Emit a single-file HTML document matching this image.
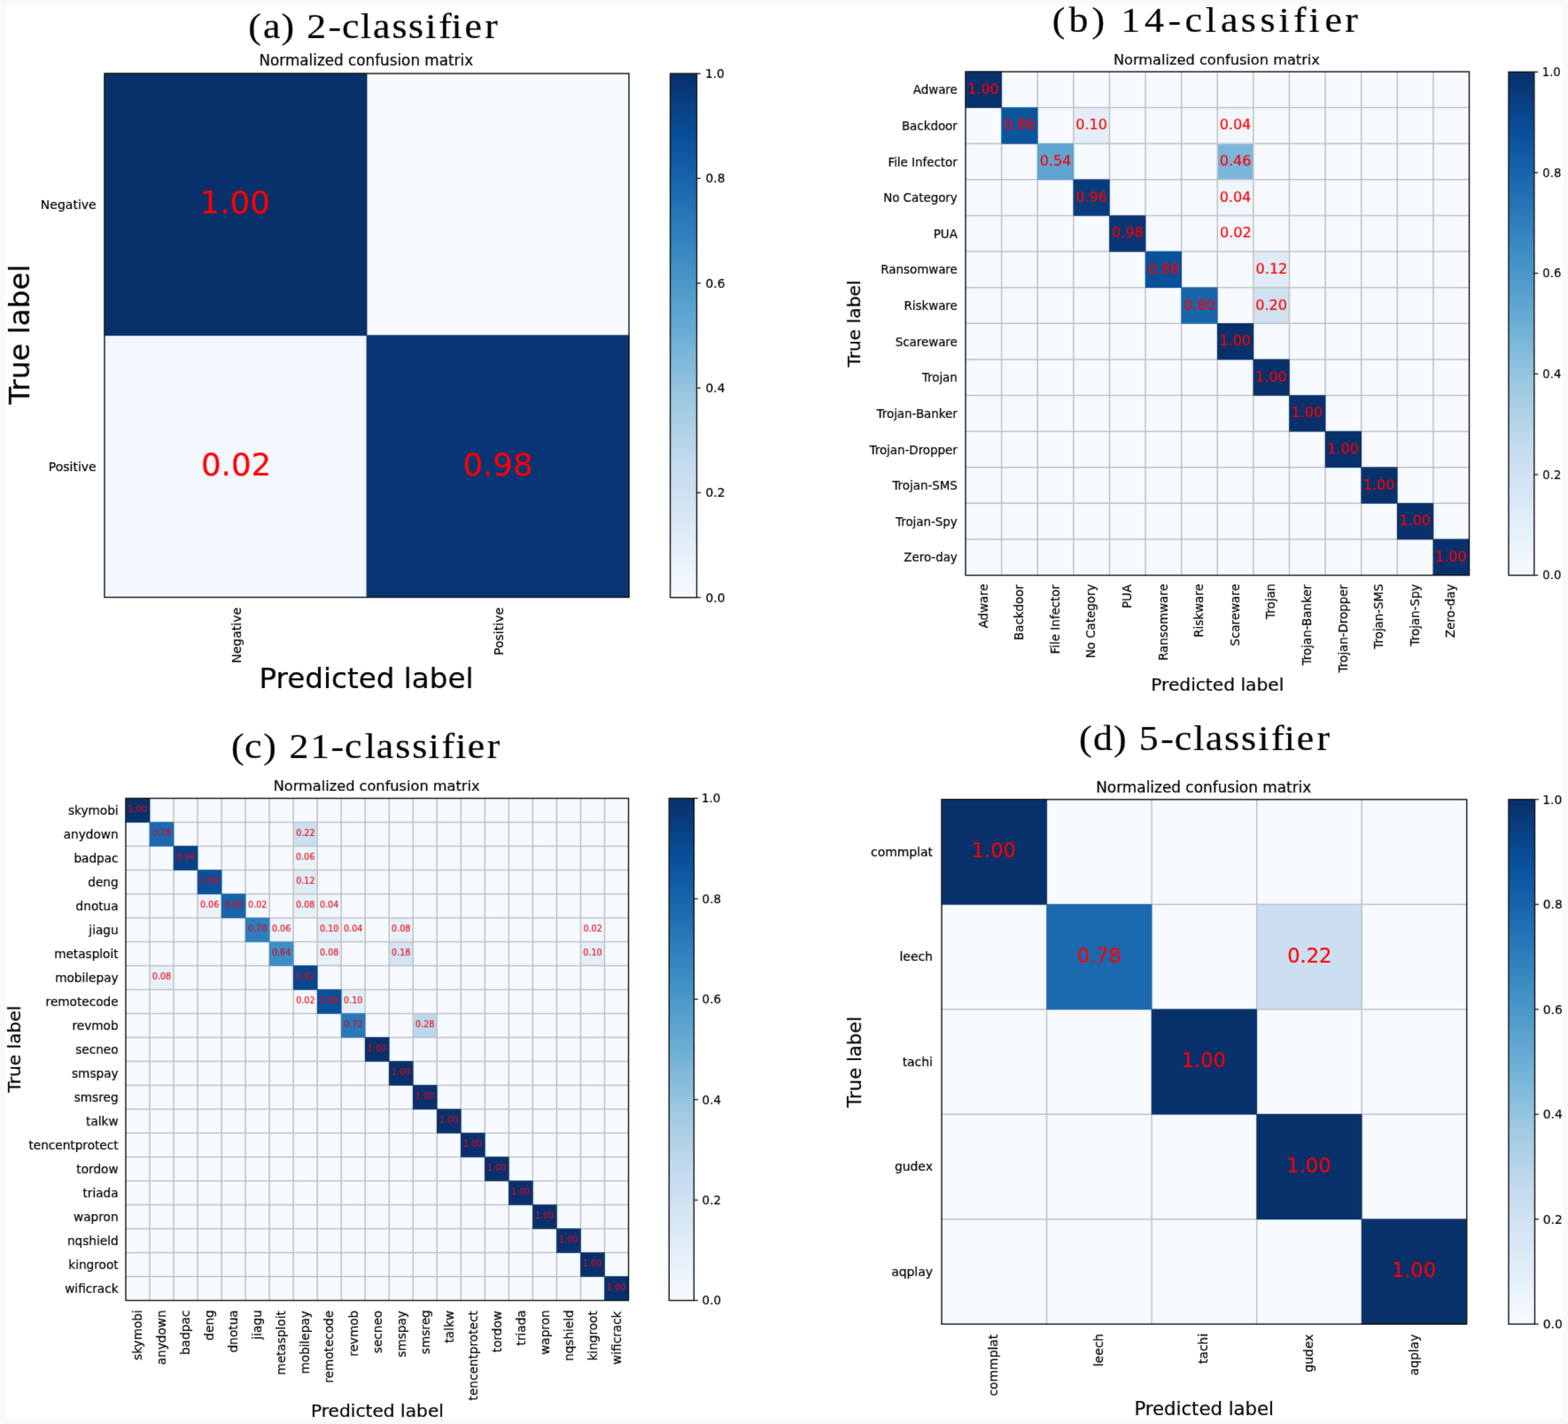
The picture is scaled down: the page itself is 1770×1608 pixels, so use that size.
<!DOCTYPE html>
<html><head><meta charset="utf-8"><title>Confusion matrices</title>
<style>html,body{margin:0;padding:0;background:#f9f9fb;}svg{display:block}</style></head>
<body><svg width="1770" height="1608" viewBox="0 0 1770 1608">
<defs><filter id="bl" x="0" y="0" width="1770" height="1608" filterUnits="userSpaceOnUse" color-interpolation-filters="sRGB"><feConvolveMatrix order="3" kernelMatrix="0.01134 0.08382 0.01134 0.08382 0.61935 0.08382 0.01134 0.08382 0.01134" divisor="1" edgeMode="duplicate"/></filter><linearGradient id="gb" x1="0" y1="0" x2="0" y2="1"><stop offset="0.0000" stop-color="#08306b"/><stop offset="0.1250" stop-color="#08519c"/><stop offset="0.2500" stop-color="#2171b5"/><stop offset="0.3750" stop-color="#4292c6"/><stop offset="0.5000" stop-color="#6baed6"/><stop offset="0.6250" stop-color="#9ecae1"/><stop offset="0.7500" stop-color="#c6dbef"/><stop offset="0.8750" stop-color="#deebf7"/><stop offset="1.0000" stop-color="#f7fbff"/></linearGradient></defs>
<g filter="url(#bl)"><rect x="0" y="0" width="1770" height="1608" fill="#f9f9fc"/>
<rect x="6" y="5.5" width="1758.5" height="1595.5" fill="#fff"/>
<rect x="118" y="83" width="592.00" height="591.50" fill="#f7fbff"/>
<rect x="118.00" y="378.75" width="296.00" height="295.75" fill="#f3f8fe"/>
<path d="M414.00 83V674.5M118 378.75H710" stroke="#bfc1c3" stroke-width="1.5" fill="none"/>
<rect x="117.70" y="82.70" width="296.60" height="296.35" fill="#08306b"/>
<rect x="413.70" y="378.45" width="296.60" height="296.35" fill="#083573"/>
<rect x="118" y="83" width="592.00" height="591.50" fill="none" stroke="#111" stroke-width="1.4"/>
<text x="225.59" y="241.00" font-size="35.6" text-anchor="start" font-family="DejaVu Sans" fill="#f00" stroke="#f00" stroke-width="0.2">1.00</text>
<text x="226.97" y="536.75" font-size="35.6" text-anchor="start" font-family="DejaVu Sans" fill="#f00" stroke="#f00" stroke-width="0.2">0.02</text>
<text x="522.40" y="536.75" font-size="35.6" text-anchor="start" font-family="DejaVu Sans" fill="#f00" stroke="#f00" stroke-width="0.2">0.98</text>
<text x="108.70" y="235.91" font-size="14" text-anchor="end" font-family="DejaVu Sans" fill="#000" stroke="#000" stroke-width="0.2">Negative</text>
<text x="108.70" y="531.66" font-size="14" text-anchor="end" font-family="DejaVu Sans" fill="#000" stroke="#000" stroke-width="0.2">Positive</text>
<text x="271.90" y="748.78" font-size="14" text-anchor="start" font-family="DejaVu Sans" fill="#000" transform="rotate(-90 271.90 748.78)" stroke="#000" stroke-width="0.2">Negative</text>
<text x="567.90" y="739.93" font-size="14" text-anchor="start" font-family="DejaVu Sans" fill="#000" transform="rotate(-90 567.90 739.93)" stroke="#000" stroke-width="0.2">Positive</text>
<rect x="756.6" y="83.1" width="29.90" height="591.60" fill="url(#gb)" stroke="#111" stroke-width="1.4"/>
<path d="M786.5 674.70H791.00" stroke="#111" stroke-width="1.2"/>
<text x="796.49" y="679.72" font-size="13.8" text-anchor="start" font-family="DejaVu Sans" fill="#000" stroke="#000" stroke-width="0.2">0.0</text>
<path d="M786.5 556.38H791.00" stroke="#111" stroke-width="1.2"/>
<text x="796.49" y="561.40" font-size="13.8" text-anchor="start" font-family="DejaVu Sans" fill="#000" stroke="#000" stroke-width="0.2">0.2</text>
<path d="M786.5 438.06H791.00" stroke="#111" stroke-width="1.2"/>
<text x="796.49" y="443.08" font-size="13.8" text-anchor="start" font-family="DejaVu Sans" fill="#000" stroke="#000" stroke-width="0.2">0.4</text>
<path d="M786.5 319.74H791.00" stroke="#111" stroke-width="1.2"/>
<text x="796.49" y="324.76" font-size="13.8" text-anchor="start" font-family="DejaVu Sans" fill="#000" stroke="#000" stroke-width="0.2">0.6</text>
<path d="M786.5 201.42H791.00" stroke="#111" stroke-width="1.2"/>
<text x="796.49" y="206.44" font-size="13.8" text-anchor="start" font-family="DejaVu Sans" fill="#000" stroke="#000" stroke-width="0.2">0.8</text>
<path d="M786.5 83.10H791.00" stroke="#111" stroke-width="1.2"/>
<text x="795.88" y="88.12" font-size="13.8" text-anchor="start" font-family="DejaVu Sans" fill="#000" stroke="#000" stroke-width="0.2">1.0</text>
<text x="292.56" y="74.40" font-size="16.8" text-anchor="start" font-family="'DejaVu Sans'" fill="#000" stroke="#000" stroke-width="0.2">Normalized confusion matrix</text>
<text x="292.51" y="777.30" font-size="32.6" text-anchor="start" font-family="'DejaVu Sans'" fill="#000" stroke="#000" stroke-width="0.2">Predicted label</text>
<text x="33.00" y="456.85" font-size="32.6" text-anchor="start" font-family="DejaVu Sans" fill="#000" transform="rotate(-90 33.00 456.85)" stroke="#000" stroke-width="0.2">True label</text>
<text x="259.40 275.03 294.06 307.54 320.65 343.05 357.30 376.78 389.89 409.75 426.88 444.75 458.60 471.88 485.60 506.83" y="43.20" font-size="40.5" font-family="'Liberation Serif', serif" fill="#000" stroke="#000" stroke-width="0.2" transform="scale(1.08 1)">(a) 2-classifier</text>
<rect x="1090" y="81" width="568.50" height="568.60" fill="#f7fbff"/>
<rect x="1211.82" y="121.61" width="40.61" height="40.61" fill="#e3eef9"/>
<rect x="1374.25" y="121.61" width="40.61" height="40.61" fill="#eff6fc"/>
<rect x="1374.25" y="162.23" width="40.61" height="40.61" fill="#7bb7da"/>
<rect x="1374.25" y="202.84" width="40.61" height="40.61" fill="#eff6fc"/>
<rect x="1374.25" y="243.46" width="40.61" height="40.61" fill="#f3f8fe"/>
<rect x="1414.86" y="284.07" width="40.61" height="40.61" fill="#dfecf7"/>
<rect x="1414.86" y="324.69" width="40.61" height="40.61" fill="#d0e1f2"/>
<path d="M1130.61 81V649.6M1090 121.61H1658.5M1171.21 81V649.6M1090 162.23H1658.5M1211.82 81V649.6M1090 202.84H1658.5M1252.43 81V649.6M1090 243.46H1658.5M1293.04 81V649.6M1090 284.07H1658.5M1333.64 81V649.6M1090 324.69H1658.5M1374.25 81V649.6M1090 365.30H1658.5M1414.86 81V649.6M1090 405.91H1658.5M1455.46 81V649.6M1090 446.53H1658.5M1496.07 81V649.6M1090 487.14H1658.5M1536.68 81V649.6M1090 527.76H1658.5M1577.29 81V649.6M1090 568.37H1658.5M1617.89 81V649.6M1090 608.99H1658.5" stroke="#bfc1c3" stroke-width="1.5" fill="none"/>
<rect x="1089.70" y="80.70" width="41.21" height="41.21" fill="#08306b"/>
<rect x="1130.31" y="121.31" width="41.21" height="41.21" fill="#0b559f"/>
<rect x="1170.91" y="161.93" width="41.21" height="41.21" fill="#5ea5d1"/>
<rect x="1211.52" y="202.54" width="41.21" height="41.21" fill="#083b7b"/>
<rect x="1252.13" y="243.16" width="41.21" height="41.21" fill="#083573"/>
<rect x="1292.74" y="283.77" width="41.21" height="41.21" fill="#08509a"/>
<rect x="1333.34" y="324.39" width="41.21" height="41.21" fill="#1764ab"/>
<rect x="1373.95" y="365.00" width="41.21" height="41.21" fill="#08306b"/>
<rect x="1414.56" y="405.61" width="41.21" height="41.21" fill="#08306b"/>
<rect x="1455.16" y="446.23" width="41.21" height="41.21" fill="#08306b"/>
<rect x="1495.77" y="486.84" width="41.21" height="41.21" fill="#08306b"/>
<rect x="1536.38" y="527.46" width="41.21" height="41.21" fill="#08306b"/>
<rect x="1576.99" y="568.07" width="41.21" height="41.21" fill="#08306b"/>
<rect x="1617.59" y="608.69" width="41.21" height="41.21" fill="#08306b"/>
<rect x="1090" y="81" width="568.50" height="568.60" fill="none" stroke="#111" stroke-width="1.4"/>
<text x="1092.14" y="105.86" font-size="16.0" text-anchor="start" font-family="DejaVu Sans" fill="#f00" stroke="#f00" stroke-width="0.2">1.00</text>
<text x="1133.07" y="146.47" font-size="16.0" text-anchor="start" font-family="DejaVu Sans" fill="#f00" stroke="#f00" stroke-width="0.2">0.86</text>
<text x="1214.31" y="146.47" font-size="16.0" text-anchor="start" font-family="DejaVu Sans" fill="#f00" stroke="#f00" stroke-width="0.2">0.10</text>
<text x="1376.66" y="146.47" font-size="16.0" text-anchor="start" font-family="DejaVu Sans" fill="#f00" stroke="#f00" stroke-width="0.2">0.04</text>
<text x="1173.63" y="187.09" font-size="16.0" text-anchor="start" font-family="DejaVu Sans" fill="#f00" stroke="#f00" stroke-width="0.2">0.54</text>
<text x="1376.72" y="187.09" font-size="16.0" text-anchor="start" font-family="DejaVu Sans" fill="#f00" stroke="#f00" stroke-width="0.2">0.46</text>
<text x="1214.29" y="227.70" font-size="16.0" text-anchor="start" font-family="DejaVu Sans" fill="#f00" stroke="#f00" stroke-width="0.2">0.96</text>
<text x="1376.66" y="227.70" font-size="16.0" text-anchor="start" font-family="DejaVu Sans" fill="#f00" stroke="#f00" stroke-width="0.2">0.04</text>
<text x="1254.94" y="268.32" font-size="16.0" text-anchor="start" font-family="DejaVu Sans" fill="#f00" stroke="#f00" stroke-width="0.2">0.98</text>
<text x="1377.01" y="268.32" font-size="16.0" text-anchor="start" font-family="DejaVu Sans" fill="#f00" stroke="#f00" stroke-width="0.2">0.02</text>
<text x="1295.54" y="308.93" font-size="16.0" text-anchor="start" font-family="DejaVu Sans" fill="#f00" stroke="#f00" stroke-width="0.2">0.88</text>
<text x="1417.62" y="308.93" font-size="16.0" text-anchor="start" font-family="DejaVu Sans" fill="#f00" stroke="#f00" stroke-width="0.2">0.12</text>
<text x="1336.13" y="349.54" font-size="16.0" text-anchor="start" font-family="DejaVu Sans" fill="#f00" stroke="#f00" stroke-width="0.2">0.80</text>
<text x="1417.35" y="349.54" font-size="16.0" text-anchor="start" font-family="DejaVu Sans" fill="#f00" stroke="#f00" stroke-width="0.2">0.20</text>
<text x="1376.39" y="390.16" font-size="16.0" text-anchor="start" font-family="DejaVu Sans" fill="#f00" stroke="#f00" stroke-width="0.2">1.00</text>
<text x="1417.00" y="430.77" font-size="16.0" text-anchor="start" font-family="DejaVu Sans" fill="#f00" stroke="#f00" stroke-width="0.2">1.00</text>
<text x="1457.60" y="471.39" font-size="16.0" text-anchor="start" font-family="DejaVu Sans" fill="#f00" stroke="#f00" stroke-width="0.2">1.00</text>
<text x="1498.21" y="512.00" font-size="16.0" text-anchor="start" font-family="DejaVu Sans" fill="#f00" stroke="#f00" stroke-width="0.2">1.00</text>
<text x="1538.82" y="552.62" font-size="16.0" text-anchor="start" font-family="DejaVu Sans" fill="#f00" stroke="#f00" stroke-width="0.2">1.00</text>
<text x="1579.43" y="593.23" font-size="16.0" text-anchor="start" font-family="DejaVu Sans" fill="#f00" stroke="#f00" stroke-width="0.2">1.00</text>
<text x="1620.03" y="633.84" font-size="16.0" text-anchor="start" font-family="DejaVu Sans" fill="#f00" stroke="#f00" stroke-width="0.2">1.00</text>
<text x="1080.80" y="106.40" font-size="13.4" text-anchor="end" font-family="DejaVu Sans" fill="#000" stroke="#000" stroke-width="0.2">Adware</text>
<text x="1080.80" y="147.01" font-size="13.4" text-anchor="end" font-family="DejaVu Sans" fill="#000" stroke="#000" stroke-width="0.2">Backdoor</text>
<text x="1080.80" y="187.63" font-size="13.4" text-anchor="end" font-family="DejaVu Sans" fill="#000" stroke="#000" stroke-width="0.2">File Infector</text>
<text x="1080.80" y="228.24" font-size="13.4" text-anchor="end" font-family="DejaVu Sans" fill="#000" stroke="#000" stroke-width="0.2">No Category</text>
<text x="1080.80" y="268.86" font-size="13.4" text-anchor="end" font-family="DejaVu Sans" fill="#000" stroke="#000" stroke-width="0.2">PUA</text>
<text x="1080.80" y="309.47" font-size="13.4" text-anchor="end" font-family="DejaVu Sans" fill="#000" stroke="#000" stroke-width="0.2">Ransomware</text>
<text x="1080.80" y="350.08" font-size="13.4" text-anchor="end" font-family="DejaVu Sans" fill="#000" stroke="#000" stroke-width="0.2">Riskware</text>
<text x="1080.80" y="390.70" font-size="13.4" text-anchor="end" font-family="DejaVu Sans" fill="#000" stroke="#000" stroke-width="0.2">Scareware</text>
<text x="1080.80" y="431.31" font-size="13.4" text-anchor="end" font-family="DejaVu Sans" fill="#000" stroke="#000" stroke-width="0.2">Trojan</text>
<text x="1080.80" y="471.93" font-size="13.4" text-anchor="end" font-family="DejaVu Sans" fill="#000" stroke="#000" stroke-width="0.2">Trojan-Banker</text>
<text x="1080.80" y="512.54" font-size="13.4" text-anchor="end" font-family="DejaVu Sans" fill="#000" stroke="#000" stroke-width="0.2">Trojan-Dropper</text>
<text x="1080.80" y="553.16" font-size="13.4" text-anchor="end" font-family="DejaVu Sans" fill="#000" stroke="#000" stroke-width="0.2">Trojan-SMS</text>
<text x="1080.80" y="593.77" font-size="13.4" text-anchor="end" font-family="DejaVu Sans" fill="#000" stroke="#000" stroke-width="0.2">Trojan-Spy</text>
<text x="1080.80" y="634.38" font-size="13.4" text-anchor="end" font-family="DejaVu Sans" fill="#000" stroke="#000" stroke-width="0.2">Zero-day</text>
<text x="1114.60" y="709.35" font-size="13.4" text-anchor="start" font-family="DejaVu Sans" fill="#000" transform="rotate(-90 1114.60 709.35)" stroke="#000" stroke-width="0.2">Adware</text>
<text x="1155.21" y="722.94" font-size="13.4" text-anchor="start" font-family="DejaVu Sans" fill="#000" transform="rotate(-90 1155.21 722.94)" stroke="#000" stroke-width="0.2">Backdoor</text>
<text x="1195.82" y="738.42" font-size="13.4" text-anchor="start" font-family="DejaVu Sans" fill="#000" transform="rotate(-90 1195.82 738.42)" stroke="#000" stroke-width="0.2">File Infector</text>
<text x="1236.42" y="743.29" font-size="13.4" text-anchor="start" font-family="DejaVu Sans" fill="#000" transform="rotate(-90 1236.42 743.29)" stroke="#000" stroke-width="0.2">No Category</text>
<text x="1277.03" y="686.94" font-size="13.4" text-anchor="start" font-family="DejaVu Sans" fill="#000" transform="rotate(-90 1277.03 686.94)" stroke="#000" stroke-width="0.2">PUA</text>
<text x="1317.64" y="745.87" font-size="13.4" text-anchor="start" font-family="DejaVu Sans" fill="#000" transform="rotate(-90 1317.64 745.87)" stroke="#000" stroke-width="0.2">Ransomware</text>
<text x="1358.25" y="719.69" font-size="13.4" text-anchor="start" font-family="DejaVu Sans" fill="#000" transform="rotate(-90 1358.25 719.69)" stroke="#000" stroke-width="0.2">Riskware</text>
<text x="1398.85" y="729.46" font-size="13.4" text-anchor="start" font-family="DejaVu Sans" fill="#000" transform="rotate(-90 1398.85 729.46)" stroke="#000" stroke-width="0.2">Scareware</text>
<text x="1439.46" y="698.92" font-size="13.4" text-anchor="start" font-family="DejaVu Sans" fill="#000" transform="rotate(-90 1439.46 698.92)" stroke="#000" stroke-width="0.2">Trojan</text>
<text x="1480.07" y="751.35" font-size="13.4" text-anchor="start" font-family="DejaVu Sans" fill="#000" transform="rotate(-90 1480.07 751.35)" stroke="#000" stroke-width="0.2">Trojan-Banker</text>
<text x="1520.67" y="759.39" font-size="13.4" text-anchor="start" font-family="DejaVu Sans" fill="#000" transform="rotate(-90 1520.67 759.39)" stroke="#000" stroke-width="0.2">Trojan-Dropper</text>
<text x="1561.28" y="732.72" font-size="13.4" text-anchor="start" font-family="DejaVu Sans" fill="#000" transform="rotate(-90 1561.28 732.72)" stroke="#000" stroke-width="0.2">Trojan-SMS</text>
<text x="1601.89" y="729.43" font-size="13.4" text-anchor="start" font-family="DejaVu Sans" fill="#000" transform="rotate(-90 1601.89 729.43)" stroke="#000" stroke-width="0.2">Trojan-Spy</text>
<text x="1642.50" y="720.17" font-size="13.4" text-anchor="start" font-family="DejaVu Sans" fill="#000" transform="rotate(-90 1642.50 720.17)" stroke="#000" stroke-width="0.2">Zero-day</text>
<rect x="1703" y="81.3" width="28.80" height="568.30" fill="url(#gb)" stroke="#111" stroke-width="1.4"/>
<path d="M1731.8 649.60H1736.30" stroke="#111" stroke-width="1.2"/>
<text x="1741.33" y="654.40" font-size="13.2" text-anchor="start" font-family="DejaVu Sans" fill="#000" stroke="#000" stroke-width="0.2">0.0</text>
<path d="M1731.8 535.94H1736.30" stroke="#111" stroke-width="1.2"/>
<text x="1741.33" y="540.74" font-size="13.2" text-anchor="start" font-family="DejaVu Sans" fill="#000" stroke="#000" stroke-width="0.2">0.2</text>
<path d="M1731.8 422.28H1736.30" stroke="#111" stroke-width="1.2"/>
<text x="1741.33" y="427.08" font-size="13.2" text-anchor="start" font-family="DejaVu Sans" fill="#000" stroke="#000" stroke-width="0.2">0.4</text>
<path d="M1731.8 308.62H1736.30" stroke="#111" stroke-width="1.2"/>
<text x="1741.33" y="313.42" font-size="13.2" text-anchor="start" font-family="DejaVu Sans" fill="#000" stroke="#000" stroke-width="0.2">0.6</text>
<path d="M1731.8 194.96H1736.30" stroke="#111" stroke-width="1.2"/>
<text x="1741.33" y="199.76" font-size="13.2" text-anchor="start" font-family="DejaVu Sans" fill="#000" stroke="#000" stroke-width="0.2">0.8</text>
<path d="M1731.8 81.30H1736.30" stroke="#111" stroke-width="1.2"/>
<text x="1740.75" y="86.10" font-size="13.2" text-anchor="start" font-family="DejaVu Sans" fill="#000" stroke="#000" stroke-width="0.2">1.0</text>
<text x="1256.94" y="72.70" font-size="16.2" text-anchor="start" font-family="'DejaVu Sans'" fill="#000" stroke="#000" stroke-width="0.2">Normalized confusion matrix</text>
<text x="1299.26" y="780.00" font-size="20.2" text-anchor="start" font-family="'DejaVu Sans'" fill="#000" stroke="#000" stroke-width="0.2">Predicted label</text>
<text x="970.70" y="414.61" font-size="20.2" text-anchor="start" font-family="DejaVu Sans" fill="#000" transform="rotate(-90 970.70 414.61)" stroke="#000" stroke-width="0.2">True label</text>
<text x="1099.73 1117.13 1141.18 1154.67 1171.58 1196.32 1220.92 1238.41 1259.88 1275.86 1297.11 1317.11 1336.51 1351.80 1368.08 1384.72 1405.72" y="35.60" font-size="40.5" font-family="'Liberation Serif', serif" fill="#000" stroke="#000" stroke-width="0.2" transform="scale(1.08 1)">(b) 14-classifier</text>
<rect x="142" y="901.5" width="567.50" height="567.00" fill="#f7fbff"/>
<rect x="331.17" y="928.50" width="27.02" height="27.00" fill="#ccdff1"/>
<rect x="331.17" y="955.50" width="27.02" height="27.00" fill="#ebf3fb"/>
<rect x="331.17" y="982.50" width="27.02" height="27.00" fill="#dfecf7"/>
<rect x="223.07" y="1009.50" width="27.02" height="27.00" fill="#ebf3fb"/>
<rect x="277.12" y="1009.50" width="27.02" height="27.00" fill="#f3f8fe"/>
<rect x="331.17" y="1009.50" width="27.02" height="27.00" fill="#e7f1fa"/>
<rect x="358.19" y="1009.50" width="27.02" height="27.00" fill="#eff6fc"/>
<rect x="304.14" y="1036.50" width="27.02" height="27.00" fill="#ebf3fb"/>
<rect x="358.19" y="1036.50" width="27.02" height="27.00" fill="#e3eef9"/>
<rect x="385.21" y="1036.50" width="27.02" height="27.00" fill="#eff6fc"/>
<rect x="439.26" y="1036.50" width="27.02" height="27.00" fill="#e7f1fa"/>
<rect x="655.45" y="1036.50" width="27.02" height="27.00" fill="#f3f8fe"/>
<rect x="358.19" y="1063.50" width="27.02" height="27.00" fill="#e7f1fa"/>
<rect x="439.26" y="1063.50" width="27.02" height="27.00" fill="#d3e4f3"/>
<rect x="655.45" y="1063.50" width="27.02" height="27.00" fill="#e3eef9"/>
<rect x="169.02" y="1090.50" width="27.02" height="27.00" fill="#e7f1fa"/>
<rect x="331.17" y="1117.50" width="27.02" height="27.00" fill="#f3f8fe"/>
<rect x="385.21" y="1117.50" width="27.02" height="27.00" fill="#e3eef9"/>
<rect x="466.29" y="1144.50" width="27.02" height="27.00" fill="#bcd7ec"/>
<path d="M169.02 901.5V1468.5M142 928.50H709.5M196.05 901.5V1468.5M142 955.50H709.5M223.07 901.5V1468.5M142 982.50H709.5M250.10 901.5V1468.5M142 1009.50H709.5M277.12 901.5V1468.5M142 1036.50H709.5M304.14 901.5V1468.5M142 1063.50H709.5M331.17 901.5V1468.5M142 1090.50H709.5M358.19 901.5V1468.5M142 1117.50H709.5M385.21 901.5V1468.5M142 1144.50H709.5M412.24 901.5V1468.5M142 1171.50H709.5M439.26 901.5V1468.5M142 1198.50H709.5M466.29 901.5V1468.5M142 1225.50H709.5M493.31 901.5V1468.5M142 1252.50H709.5M520.33 901.5V1468.5M142 1279.50H709.5M547.36 901.5V1468.5M142 1306.50H709.5M574.38 901.5V1468.5M142 1333.50H709.5M601.40 901.5V1468.5M142 1360.50H709.5M628.43 901.5V1468.5M142 1387.50H709.5M655.45 901.5V1468.5M142 1414.50H709.5M682.48 901.5V1468.5M142 1441.50H709.5" stroke="#bfc1c3" stroke-width="1.5" fill="none"/>
<rect x="141.70" y="901.20" width="27.62" height="27.60" fill="#08306b"/>
<rect x="168.72" y="928.20" width="27.62" height="27.60" fill="#1b69af"/>
<rect x="195.75" y="955.20" width="27.62" height="27.60" fill="#084083"/>
<rect x="222.77" y="982.20" width="27.62" height="27.60" fill="#08509a"/>
<rect x="249.80" y="1009.20" width="27.62" height="27.60" fill="#1764ab"/>
<rect x="276.82" y="1036.20" width="27.62" height="27.60" fill="#2e7ebc"/>
<rect x="303.84" y="1063.20" width="27.62" height="27.60" fill="#3e8ec4"/>
<rect x="330.87" y="1090.20" width="27.62" height="27.60" fill="#08458a"/>
<rect x="357.89" y="1117.20" width="27.62" height="27.60" fill="#08509a"/>
<rect x="384.91" y="1144.20" width="27.62" height="27.60" fill="#2979b9"/>
<rect x="411.94" y="1171.20" width="27.62" height="27.60" fill="#08306b"/>
<rect x="438.96" y="1198.20" width="27.62" height="27.60" fill="#08306b"/>
<rect x="465.99" y="1225.20" width="27.62" height="27.60" fill="#08306b"/>
<rect x="493.01" y="1252.20" width="27.62" height="27.60" fill="#08306b"/>
<rect x="520.03" y="1279.20" width="27.62" height="27.60" fill="#08306b"/>
<rect x="547.06" y="1306.20" width="27.62" height="27.60" fill="#08306b"/>
<rect x="574.08" y="1333.20" width="27.62" height="27.60" fill="#08306b"/>
<rect x="601.10" y="1360.20" width="27.62" height="27.60" fill="#08306b"/>
<rect x="628.13" y="1387.20" width="27.62" height="27.60" fill="#08306b"/>
<rect x="655.15" y="1414.20" width="27.62" height="27.60" fill="#08306b"/>
<rect x="682.18" y="1441.20" width="27.62" height="27.60" fill="#08306b"/>
<rect x="142" y="901.5" width="567.50" height="567.00" fill="none" stroke="#111" stroke-width="1.4"/>
<text x="144.61" y="917.43" font-size="9.6" text-anchor="start" font-family="DejaVu Sans" fill="#c8102e" stroke="#c8102e" stroke-width="0.2">1.00</text>
<text x="171.86" y="944.43" font-size="9.6" text-anchor="start" font-family="DejaVu Sans" fill="#c8102e" stroke="#c8102e" stroke-width="0.2">0.78</text>
<text x="334.15" y="944.43" font-size="9.6" text-anchor="start" font-family="DejaVu Sans" fill="#ee1820" stroke="#ee1820" stroke-width="0.2">0.22</text>
<text x="198.82" y="971.43" font-size="9.6" text-anchor="start" font-family="DejaVu Sans" fill="#c8102e" stroke="#c8102e" stroke-width="0.2">0.94</text>
<text x="333.98" y="971.43" font-size="9.6" text-anchor="start" font-family="DejaVu Sans" fill="#ee1820" stroke="#ee1820" stroke-width="0.2">0.06</text>
<text x="225.91" y="998.43" font-size="9.6" text-anchor="start" font-family="DejaVu Sans" fill="#c8102e" stroke="#c8102e" stroke-width="0.2">0.88</text>
<text x="334.15" y="998.43" font-size="9.6" text-anchor="start" font-family="DejaVu Sans" fill="#ee1820" stroke="#ee1820" stroke-width="0.2">0.12</text>
<text x="225.88" y="1025.43" font-size="9.6" text-anchor="start" font-family="DejaVu Sans" fill="#ee1820" stroke="#ee1820" stroke-width="0.2">0.06</text>
<text x="252.92" y="1025.43" font-size="9.6" text-anchor="start" font-family="DejaVu Sans" fill="#c8102e" stroke="#c8102e" stroke-width="0.2">0.80</text>
<text x="280.11" y="1025.43" font-size="9.6" text-anchor="start" font-family="DejaVu Sans" fill="#ee1820" stroke="#ee1820" stroke-width="0.2">0.02</text>
<text x="334.00" y="1025.43" font-size="9.6" text-anchor="start" font-family="DejaVu Sans" fill="#ee1820" stroke="#ee1820" stroke-width="0.2">0.08</text>
<text x="360.97" y="1025.43" font-size="9.6" text-anchor="start" font-family="DejaVu Sans" fill="#ee1820" stroke="#ee1820" stroke-width="0.2">0.04</text>
<text x="279.94" y="1052.43" font-size="9.6" text-anchor="start" font-family="DejaVu Sans" fill="#c8102e" stroke="#c8102e" stroke-width="0.2">0.70</text>
<text x="306.95" y="1052.43" font-size="9.6" text-anchor="start" font-family="DejaVu Sans" fill="#ee1820" stroke="#ee1820" stroke-width="0.2">0.06</text>
<text x="361.02" y="1052.43" font-size="9.6" text-anchor="start" font-family="DejaVu Sans" fill="#ee1820" stroke="#ee1820" stroke-width="0.2">0.10</text>
<text x="387.99" y="1052.43" font-size="9.6" text-anchor="start" font-family="DejaVu Sans" fill="#ee1820" stroke="#ee1820" stroke-width="0.2">0.04</text>
<text x="442.10" y="1052.43" font-size="9.6" text-anchor="start" font-family="DejaVu Sans" fill="#ee1820" stroke="#ee1820" stroke-width="0.2">0.08</text>
<text x="658.44" y="1052.43" font-size="9.6" text-anchor="start" font-family="DejaVu Sans" fill="#ee1820" stroke="#ee1820" stroke-width="0.2">0.02</text>
<text x="306.92" y="1079.43" font-size="9.6" text-anchor="start" font-family="DejaVu Sans" fill="#c8102e" stroke="#c8102e" stroke-width="0.2">0.64</text>
<text x="361.02" y="1079.43" font-size="9.6" text-anchor="start" font-family="DejaVu Sans" fill="#ee1820" stroke="#ee1820" stroke-width="0.2">0.08</text>
<text x="442.10" y="1079.43" font-size="9.6" text-anchor="start" font-family="DejaVu Sans" fill="#ee1820" stroke="#ee1820" stroke-width="0.2">0.18</text>
<text x="658.28" y="1079.43" font-size="9.6" text-anchor="start" font-family="DejaVu Sans" fill="#ee1820" stroke="#ee1820" stroke-width="0.2">0.10</text>
<text x="171.86" y="1106.43" font-size="9.6" text-anchor="start" font-family="DejaVu Sans" fill="#ee1820" stroke="#ee1820" stroke-width="0.2">0.08</text>
<text x="334.15" y="1106.43" font-size="9.6" text-anchor="start" font-family="DejaVu Sans" fill="#c8102e" stroke="#c8102e" stroke-width="0.2">0.92</text>
<text x="334.15" y="1133.43" font-size="9.6" text-anchor="start" font-family="DejaVu Sans" fill="#ee1820" stroke="#ee1820" stroke-width="0.2">0.02</text>
<text x="361.02" y="1133.43" font-size="9.6" text-anchor="start" font-family="DejaVu Sans" fill="#c8102e" stroke="#c8102e" stroke-width="0.2">0.88</text>
<text x="388.04" y="1133.43" font-size="9.6" text-anchor="start" font-family="DejaVu Sans" fill="#ee1820" stroke="#ee1820" stroke-width="0.2">0.10</text>
<text x="388.20" y="1160.43" font-size="9.6" text-anchor="start" font-family="DejaVu Sans" fill="#c8102e" stroke="#c8102e" stroke-width="0.2">0.72</text>
<text x="469.12" y="1160.43" font-size="9.6" text-anchor="start" font-family="DejaVu Sans" fill="#ee1820" stroke="#ee1820" stroke-width="0.2">0.28</text>
<text x="414.85" y="1187.43" font-size="9.6" text-anchor="start" font-family="DejaVu Sans" fill="#c8102e" stroke="#c8102e" stroke-width="0.2">1.00</text>
<text x="441.88" y="1214.43" font-size="9.6" text-anchor="start" font-family="DejaVu Sans" fill="#c8102e" stroke="#c8102e" stroke-width="0.2">1.00</text>
<text x="468.90" y="1241.43" font-size="9.6" text-anchor="start" font-family="DejaVu Sans" fill="#c8102e" stroke="#c8102e" stroke-width="0.2">1.00</text>
<text x="495.92" y="1268.43" font-size="9.6" text-anchor="start" font-family="DejaVu Sans" fill="#c8102e" stroke="#c8102e" stroke-width="0.2">1.00</text>
<text x="522.95" y="1295.43" font-size="9.6" text-anchor="start" font-family="DejaVu Sans" fill="#c8102e" stroke="#c8102e" stroke-width="0.2">1.00</text>
<text x="549.97" y="1322.43" font-size="9.6" text-anchor="start" font-family="DejaVu Sans" fill="#c8102e" stroke="#c8102e" stroke-width="0.2">1.00</text>
<text x="576.99" y="1349.43" font-size="9.6" text-anchor="start" font-family="DejaVu Sans" fill="#c8102e" stroke="#c8102e" stroke-width="0.2">1.00</text>
<text x="604.02" y="1376.43" font-size="9.6" text-anchor="start" font-family="DejaVu Sans" fill="#c8102e" stroke="#c8102e" stroke-width="0.2">1.00</text>
<text x="631.04" y="1403.43" font-size="9.6" text-anchor="start" font-family="DejaVu Sans" fill="#c8102e" stroke="#c8102e" stroke-width="0.2">1.00</text>
<text x="658.07" y="1430.43" font-size="9.6" text-anchor="start" font-family="DejaVu Sans" fill="#c8102e" stroke="#c8102e" stroke-width="0.2">1.00</text>
<text x="685.09" y="1457.43" font-size="9.6" text-anchor="start" font-family="DejaVu Sans" fill="#c8102e" stroke="#c8102e" stroke-width="0.2">1.00</text>
<text x="133.60" y="919.91" font-size="13.65" text-anchor="end" font-family="DejaVu Sans" fill="#000" stroke="#000" stroke-width="0.2">skymobi</text>
<text x="133.60" y="946.91" font-size="13.65" text-anchor="end" font-family="DejaVu Sans" fill="#000" stroke="#000" stroke-width="0.2">anydown</text>
<text x="133.60" y="973.91" font-size="13.65" text-anchor="end" font-family="DejaVu Sans" fill="#000" stroke="#000" stroke-width="0.2">badpac</text>
<text x="133.60" y="1000.91" font-size="13.65" text-anchor="end" font-family="DejaVu Sans" fill="#000" stroke="#000" stroke-width="0.2">deng</text>
<text x="133.60" y="1027.91" font-size="13.65" text-anchor="end" font-family="DejaVu Sans" fill="#000" stroke="#000" stroke-width="0.2">dnotua</text>
<text x="133.60" y="1054.91" font-size="13.65" text-anchor="end" font-family="DejaVu Sans" fill="#000" stroke="#000" stroke-width="0.2">jiagu</text>
<text x="133.60" y="1081.91" font-size="13.65" text-anchor="end" font-family="DejaVu Sans" fill="#000" stroke="#000" stroke-width="0.2">metasploit</text>
<text x="133.60" y="1108.91" font-size="13.65" text-anchor="end" font-family="DejaVu Sans" fill="#000" stroke="#000" stroke-width="0.2">mobilepay</text>
<text x="133.60" y="1135.91" font-size="13.65" text-anchor="end" font-family="DejaVu Sans" fill="#000" stroke="#000" stroke-width="0.2">remotecode</text>
<text x="133.60" y="1162.91" font-size="13.65" text-anchor="end" font-family="DejaVu Sans" fill="#000" stroke="#000" stroke-width="0.2">revmob</text>
<text x="133.60" y="1189.91" font-size="13.65" text-anchor="end" font-family="DejaVu Sans" fill="#000" stroke="#000" stroke-width="0.2">secneo</text>
<text x="133.60" y="1216.91" font-size="13.65" text-anchor="end" font-family="DejaVu Sans" fill="#000" stroke="#000" stroke-width="0.2">smspay</text>
<text x="133.60" y="1243.91" font-size="13.65" text-anchor="end" font-family="DejaVu Sans" fill="#000" stroke="#000" stroke-width="0.2">smsreg</text>
<text x="133.60" y="1270.91" font-size="13.65" text-anchor="end" font-family="DejaVu Sans" fill="#000" stroke="#000" stroke-width="0.2">talkw</text>
<text x="133.60" y="1297.91" font-size="13.65" text-anchor="end" font-family="DejaVu Sans" fill="#000" stroke="#000" stroke-width="0.2">tencentprotect</text>
<text x="133.60" y="1324.91" font-size="13.65" text-anchor="end" font-family="DejaVu Sans" fill="#000" stroke="#000" stroke-width="0.2">tordow</text>
<text x="133.60" y="1351.91" font-size="13.65" text-anchor="end" font-family="DejaVu Sans" fill="#000" stroke="#000" stroke-width="0.2">triada</text>
<text x="133.60" y="1378.91" font-size="13.65" text-anchor="end" font-family="DejaVu Sans" fill="#000" stroke="#000" stroke-width="0.2">wapron</text>
<text x="133.60" y="1405.91" font-size="13.65" text-anchor="end" font-family="DejaVu Sans" fill="#000" stroke="#000" stroke-width="0.2">nqshield</text>
<text x="133.60" y="1432.91" font-size="13.65" text-anchor="end" font-family="DejaVu Sans" fill="#000" stroke="#000" stroke-width="0.2">kingroot</text>
<text x="133.60" y="1459.91" font-size="13.65" text-anchor="end" font-family="DejaVu Sans" fill="#000" stroke="#000" stroke-width="0.2">wificrack</text>
<text x="160.31" y="1535.93" font-size="13.65" text-anchor="start" font-family="DejaVu Sans" fill="#000" transform="rotate(-90 160.31 1535.93)" stroke="#000" stroke-width="0.2">skymobi</text>
<text x="187.34" y="1541.27" font-size="13.65" text-anchor="start" font-family="DejaVu Sans" fill="#000" transform="rotate(-90 187.34 1541.27)" stroke="#000" stroke-width="0.2">anydown</text>
<text x="214.36" y="1529.89" font-size="13.65" text-anchor="start" font-family="DejaVu Sans" fill="#000" transform="rotate(-90 214.36 1529.89)" stroke="#000" stroke-width="0.2">badpac</text>
<text x="241.38" y="1513.64" font-size="13.65" text-anchor="start" font-family="DejaVu Sans" fill="#000" transform="rotate(-90 241.38 1513.64)" stroke="#000" stroke-width="0.2">deng</text>
<text x="268.41" y="1527.30" font-size="13.65" text-anchor="start" font-family="DejaVu Sans" fill="#000" transform="rotate(-90 268.41 1527.30)" stroke="#000" stroke-width="0.2">dnotua</text>
<text x="295.43" y="1512.52" font-size="13.65" text-anchor="start" font-family="DejaVu Sans" fill="#000" transform="rotate(-90 295.43 1512.52)" stroke="#000" stroke-width="0.2">jiagu</text>
<text x="322.45" y="1552.65" font-size="13.65" text-anchor="start" font-family="DejaVu Sans" fill="#000" transform="rotate(-90 322.45 1552.65)" stroke="#000" stroke-width="0.2">metasploit</text>
<text x="349.48" y="1551.49" font-size="13.65" text-anchor="start" font-family="DejaVu Sans" fill="#000" transform="rotate(-90 349.48 1551.49)" stroke="#000" stroke-width="0.2">mobilepay</text>
<text x="376.50" y="1561.80" font-size="13.65" text-anchor="start" font-family="DejaVu Sans" fill="#000" transform="rotate(-90 376.50 1561.80)" stroke="#000" stroke-width="0.2">remotecode</text>
<text x="403.53" y="1531.85" font-size="13.65" text-anchor="start" font-family="DejaVu Sans" fill="#000" transform="rotate(-90 403.53 1531.85)" stroke="#000" stroke-width="0.2">revmob</text>
<text x="430.55" y="1528.17" font-size="13.65" text-anchor="start" font-family="DejaVu Sans" fill="#000" transform="rotate(-90 430.55 1528.17)" stroke="#000" stroke-width="0.2">secneo</text>
<text x="457.57" y="1532.72" font-size="13.65" text-anchor="start" font-family="DejaVu Sans" fill="#000" transform="rotate(-90 457.57 1532.72)" stroke="#000" stroke-width="0.2">smspay</text>
<text x="484.60" y="1529.16" font-size="13.65" text-anchor="start" font-family="DejaVu Sans" fill="#000" transform="rotate(-90 484.60 1529.16)" stroke="#000" stroke-width="0.2">smsreg</text>
<text x="511.62" y="1516.51" font-size="13.65" text-anchor="start" font-family="DejaVu Sans" fill="#000" transform="rotate(-90 511.62 1516.51)" stroke="#000" stroke-width="0.2">talkw</text>
<text x="538.65" y="1581.41" font-size="13.65" text-anchor="start" font-family="DejaVu Sans" fill="#000" transform="rotate(-90 538.65 1581.41)" stroke="#000" stroke-width="0.2">tencentprotect</text>
<text x="565.67" y="1527.18" font-size="13.65" text-anchor="start" font-family="DejaVu Sans" fill="#000" transform="rotate(-90 565.67 1527.18)" stroke="#000" stroke-width="0.2">tordow</text>
<text x="592.69" y="1519.41" font-size="13.65" text-anchor="start" font-family="DejaVu Sans" fill="#000" transform="rotate(-90 592.69 1519.41)" stroke="#000" stroke-width="0.2">triada</text>
<text x="619.72" y="1529.85" font-size="13.65" text-anchor="start" font-family="DejaVu Sans" fill="#000" transform="rotate(-90 619.72 1529.85)" stroke="#000" stroke-width="0.2">wapron</text>
<text x="646.74" y="1536.99" font-size="13.65" text-anchor="start" font-family="DejaVu Sans" fill="#000" transform="rotate(-90 646.74 1536.99)" stroke="#000" stroke-width="0.2">nqshield</text>
<text x="673.76" y="1536.55" font-size="13.65" text-anchor="start" font-family="DejaVu Sans" fill="#000" transform="rotate(-90 673.76 1536.55)" stroke="#000" stroke-width="0.2">kingroot</text>
<text x="700.79" y="1540.90" font-size="13.65" text-anchor="start" font-family="DejaVu Sans" fill="#000" transform="rotate(-90 700.79 1540.90)" stroke="#000" stroke-width="0.2">wificrack</text>
<rect x="755.3" y="901.5" width="28.10" height="567.00" fill="url(#gb)" stroke="#111" stroke-width="1.4"/>
<path d="M783.4 1468.50H787.90" stroke="#111" stroke-width="1.2"/>
<text x="792.62" y="1473.38" font-size="13.4" text-anchor="start" font-family="DejaVu Sans" fill="#000" stroke="#000" stroke-width="0.2">0.0</text>
<path d="M783.4 1355.10H787.90" stroke="#111" stroke-width="1.2"/>
<text x="792.62" y="1359.98" font-size="13.4" text-anchor="start" font-family="DejaVu Sans" fill="#000" stroke="#000" stroke-width="0.2">0.2</text>
<path d="M783.4 1241.70H787.90" stroke="#111" stroke-width="1.2"/>
<text x="792.62" y="1246.58" font-size="13.4" text-anchor="start" font-family="DejaVu Sans" fill="#000" stroke="#000" stroke-width="0.2">0.4</text>
<path d="M783.4 1128.30H787.90" stroke="#111" stroke-width="1.2"/>
<text x="792.62" y="1133.18" font-size="13.4" text-anchor="start" font-family="DejaVu Sans" fill="#000" stroke="#000" stroke-width="0.2">0.6</text>
<path d="M783.4 1014.90H787.90" stroke="#111" stroke-width="1.2"/>
<text x="792.62" y="1019.78" font-size="13.4" text-anchor="start" font-family="DejaVu Sans" fill="#000" stroke="#000" stroke-width="0.2">0.8</text>
<path d="M783.4 901.50H787.90" stroke="#111" stroke-width="1.2"/>
<text x="792.03" y="906.38" font-size="13.4" text-anchor="start" font-family="DejaVu Sans" fill="#000" stroke="#000" stroke-width="0.2">1.0</text>
<text x="308.64" y="892.90" font-size="16.2" text-anchor="start" font-family="'DejaVu Sans'" fill="#000" stroke="#000" stroke-width="0.2">Normalized confusion matrix</text>
<text x="350.91" y="1599.50" font-size="20.2" text-anchor="start" font-family="'DejaVu Sans'" fill="#000" stroke="#000" stroke-width="0.2">Predicted label</text>
<text x="23.00" y="1233.71" font-size="20.2" text-anchor="start" font-family="DejaVu Sans" fill="#000" transform="rotate(-90 23.00 1233.71)" stroke="#000" stroke-width="0.2">True label</text>
<text x="241.67 255.64 275.26 288.75 302.41 324.40 345.74 360.08 381.22 393.41 413.32 430.86 447.85 461.52 476.14 488.71 509.05" y="855.70" font-size="40.5" font-family="'Liberation Serif', serif" fill="#000" stroke="#000" stroke-width="0.2" transform="scale(1.08 1)">(c) 21-classifier</text>
<rect x="1063" y="902.8" width="592.70" height="592.40" fill="#f7fbff"/>
<rect x="1418.62" y="1021.28" width="118.54" height="118.48" fill="#ccdff1"/>
<path d="M1181.54 902.8V1495.2M1063 1021.28H1655.7M1300.08 902.8V1495.2M1063 1139.76H1655.7M1418.62 902.8V1495.2M1063 1258.24H1655.7M1537.16 902.8V1495.2M1063 1376.72H1655.7" stroke="#bfc1c3" stroke-width="1.5" fill="none"/>
<rect x="1062.70" y="902.50" width="119.14" height="119.08" fill="#08306b"/>
<rect x="1181.24" y="1020.98" width="119.14" height="119.08" fill="#1b69af"/>
<rect x="1299.78" y="1139.46" width="119.14" height="119.08" fill="#08306b"/>
<rect x="1418.32" y="1257.94" width="119.14" height="119.08" fill="#08306b"/>
<rect x="1536.86" y="1376.42" width="119.14" height="119.08" fill="#08306b"/>
<rect x="1063" y="902.8" width="592.70" height="592.40" fill="none" stroke="#111" stroke-width="1.4"/>
<text x="1096.73" y="968.44" font-size="22.5" text-anchor="start" font-family="DejaVu Sans" fill="#f00" stroke="#f00" stroke-width="0.2">1.00</text>
<text x="1215.78" y="1086.92" font-size="22.5" text-anchor="start" font-family="DejaVu Sans" fill="#f00" stroke="#f00" stroke-width="0.2">0.78</text>
<text x="1453.22" y="1086.92" font-size="22.5" text-anchor="start" font-family="DejaVu Sans" fill="#f00" stroke="#f00" stroke-width="0.2">0.22</text>
<text x="1333.81" y="1205.40" font-size="22.5" text-anchor="start" font-family="DejaVu Sans" fill="#f00" stroke="#f00" stroke-width="0.2">1.00</text>
<text x="1452.35" y="1323.88" font-size="22.5" text-anchor="start" font-family="DejaVu Sans" fill="#f00" stroke="#f00" stroke-width="0.2">1.00</text>
<text x="1570.89" y="1442.36" font-size="22.5" text-anchor="start" font-family="DejaVu Sans" fill="#f00" stroke="#f00" stroke-width="0.2">1.00</text>
<text x="1052.90" y="966.63" font-size="13.9" text-anchor="end" font-family="DejaVu Sans" fill="#000" stroke="#000" stroke-width="0.2">commplat</text>
<text x="1052.90" y="1085.11" font-size="13.9" text-anchor="end" font-family="DejaVu Sans" fill="#000" stroke="#000" stroke-width="0.2">leech</text>
<text x="1052.90" y="1203.59" font-size="13.9" text-anchor="end" font-family="DejaVu Sans" fill="#000" stroke="#000" stroke-width="0.2">tachi</text>
<text x="1052.90" y="1322.07" font-size="13.9" text-anchor="end" font-family="DejaVu Sans" fill="#000" stroke="#000" stroke-width="0.2">gudex</text>
<text x="1052.90" y="1440.55" font-size="13.9" text-anchor="end" font-family="DejaVu Sans" fill="#000" stroke="#000" stroke-width="0.2">aqplay</text>
<text x="1126.37" y="1576.55" font-size="13.9" text-anchor="start" font-family="DejaVu Sans" fill="#000" transform="rotate(-90 1126.37 1576.55)" stroke="#000" stroke-width="0.2">commplat</text>
<text x="1244.91" y="1543.24" font-size="13.9" text-anchor="start" font-family="DejaVu Sans" fill="#000" transform="rotate(-90 1244.91 1543.24)" stroke="#000" stroke-width="0.2">leech</text>
<text x="1363.45" y="1539.98" font-size="13.9" text-anchor="start" font-family="DejaVu Sans" fill="#000" transform="rotate(-90 1363.45 1539.98)" stroke="#000" stroke-width="0.2">tachi</text>
<text x="1481.99" y="1549.53" font-size="13.9" text-anchor="start" font-family="DejaVu Sans" fill="#000" transform="rotate(-90 1481.99 1549.53)" stroke="#000" stroke-width="0.2">gudex</text>
<text x="1600.53" y="1553.36" font-size="13.9" text-anchor="start" font-family="DejaVu Sans" fill="#000" transform="rotate(-90 1600.53 1553.36)" stroke="#000" stroke-width="0.2">aqplay</text>
<rect x="1703" y="902.8" width="29.50" height="592.40" fill="url(#gb)" stroke="#111" stroke-width="1.4"/>
<path d="M1732.5 1495.20H1737.00" stroke="#111" stroke-width="1.2"/>
<text x="1741.78" y="1500.26" font-size="13.9" text-anchor="start" font-family="DejaVu Sans" fill="#000" stroke="#000" stroke-width="0.2">0.0</text>
<path d="M1732.5 1376.72H1737.00" stroke="#111" stroke-width="1.2"/>
<text x="1741.78" y="1381.78" font-size="13.9" text-anchor="start" font-family="DejaVu Sans" fill="#000" stroke="#000" stroke-width="0.2">0.2</text>
<path d="M1732.5 1258.24H1737.00" stroke="#111" stroke-width="1.2"/>
<text x="1741.78" y="1263.30" font-size="13.9" text-anchor="start" font-family="DejaVu Sans" fill="#000" stroke="#000" stroke-width="0.2">0.4</text>
<path d="M1732.5 1139.76H1737.00" stroke="#111" stroke-width="1.2"/>
<text x="1741.78" y="1144.82" font-size="13.9" text-anchor="start" font-family="DejaVu Sans" fill="#000" stroke="#000" stroke-width="0.2">0.6</text>
<path d="M1732.5 1021.28H1737.00" stroke="#111" stroke-width="1.2"/>
<text x="1741.78" y="1026.34" font-size="13.9" text-anchor="start" font-family="DejaVu Sans" fill="#000" stroke="#000" stroke-width="0.2">0.8</text>
<path d="M1732.5 902.80H1737.00" stroke="#111" stroke-width="1.2"/>
<text x="1741.17" y="907.86" font-size="13.9" text-anchor="start" font-family="DejaVu Sans" fill="#000" stroke="#000" stroke-width="0.2">1.0</text>
<text x="1237.23" y="894.50" font-size="16.9" text-anchor="start" font-family="'DejaVu Sans'" fill="#000" stroke="#000" stroke-width="0.2">Normalized confusion matrix</text>
<text x="1280.44" y="1598.10" font-size="21.2" text-anchor="start" font-family="'DejaVu Sans'" fill="#000" stroke="#000" stroke-width="0.2">Predicted label</text>
<text x="971.80" y="1250.79" font-size="21.2" text-anchor="start" font-family="DejaVu Sans" fill="#000" transform="rotate(-90 971.80 1250.79)" stroke="#000" stroke-width="0.2">True label</text>
<text x="1127.78 1142.63 1163.87 1177.36 1190.46 1213.24 1227.58 1247.56 1260.03 1279.71 1297.25 1315.12 1328.74 1342.48 1355.33 1376.32" y="847.40" font-size="40.5" font-family="'Liberation Serif', serif" fill="#000" stroke="#000" stroke-width="0.2" transform="scale(1.08 1)">(d) 5-classifier</text>
</g></svg></body></html>
